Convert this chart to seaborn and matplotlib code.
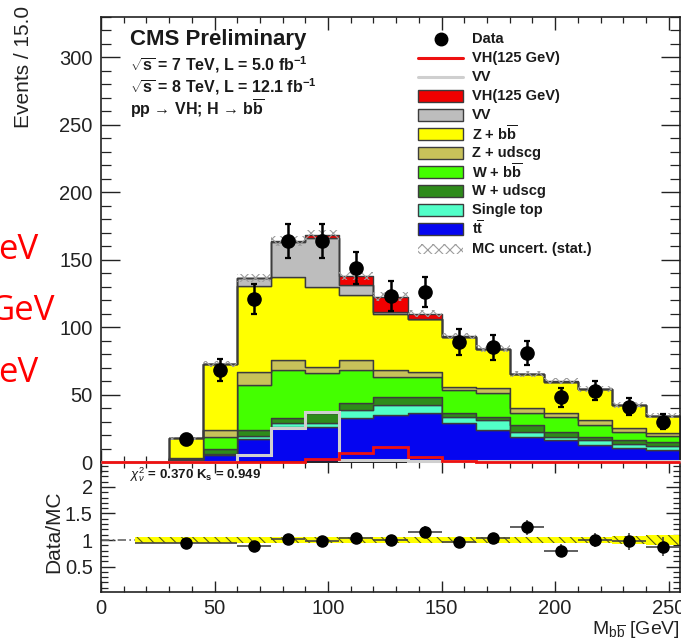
import numpy as np
import pandas as pd
import matplotlib
matplotlib.use("Agg")
import matplotlib.pyplot as plt
from matplotlib import ticker
from matplotlib.patches import Rectangle
from matplotlib.lines import Line2D
import seaborn as sns

# ---------------- data ----------------
bin_edges = np.arange(0, 256, 15)          # M_bb bins, 15 GeV wide, 0..255

# stacked expectations (events / 15 GeV), bottom of stack first
ttbar      = [0, 0, 1.0, 5.0, 16.8, 26.2, 25.7, 32.4, 34.9, 36.1, 28.7, 23.7, 18.8, 16.3, 12.6, 10.5, 8.9]
single_top = [0, 0, 0.3, 1.0, 2.5, 2.5, 3.0, 6.2, 7.4, 6.2, 4.9, 7.5, 3.7, 2.5, 3.7, 2.5, 3.0]
w_udscg    = [0, 0, 0.6, 3.4, 4.4, 3.7, 8.0, 4.9, 6.1, 6.1, 2.5, 2.4, 4.9, 3.7, 2.5, 3.0, 3.1]
w_bb       = [0, 0, 0.5, 9.4, 33.3, 35.8, 29.1, 24.7, 14.9, 14.5, 17.3, 17.4, 8.7, 11.1, 8.6, 6.0, 4.3]
z_udscg    = [0, 0, 0.3, 4.9, 9.5, 7.5, 4.9, 7.5, 4.9, 4.2, 2.5, 3.6, 3.7, 3.0, 3.8, 3.0, 2.0]
z_bb       = [0, 0, 14.9, 49.0, 64.1, 61.8, 59.3, 48.2, 41.6, 38.9, 37.1, 29.0, 25.5, 23.0, 22.7, 17.3, 12.8]
vv         = [0, 0, 0, 0, 5.7, 26.0, 36.0, 7.4, 1.7, 0.3, 0, 0, 0, 0, 0, 0, 0]
vh         = [0, 0, 0, 0, 0, 0.3, 2.5, 6.5, 11.2, 3.8, 0.4, 0.3, 0.2, 0.2, 0.1, 0.1, 0.1]

# unstacked VV shape
vv_line    = [0, 0, 0, 0, 5.2, 25.0, 37.0, 1.5, 1.5, 1.0, 0.8, 0.8, 0.6, 0.6, 0.5, 0.5, 0.4]

# MC statistical uncertainty on the total (events)
mc_stat    = [0, 0, 1.2, 2.2, 3.0, 3.5, 3.5, 3.2, 3.0, 2.8, 2.5, 2.5, 2.2, 2.2, 2.0, 2.0, 1.8]

# observed data, bins 30-45 ... 240-255
data_counts = [17, 68, 121, 164, 164, 144, 123, 126, 89, 85, 81, 48, 53, 41, 30]
data_err    = [4.1, 8.2, 11.0, 12.8, 12.8, 12.0, 11.1, 11.2, 9.4, 9.2, 9.0, 6.9, 7.3, 6.4, 5.5]

# Data/MC ratio (first bin merged 15-60 GeV)
ratio_edges = [15, 60, 75, 90, 105, 120, 135, 150, 165, 180, 195, 210, 225, 240, 255]
ratio_val   = [0.94, 0.89, 1.01, 0.98, 1.04, 1.00, 1.16, 0.96, 1.03, 1.24, 0.80, 1.00, 0.98, 0.87]
ratio_err   = [0.06, 0.08, 0.08, 0.08, 0.09, 0.09, 0.10, 0.10, 0.11, 0.14, 0.12, 0.14, 0.16, 0.18]
ratio_band  = [0.06, 0.055, 0.05, 0.05, 0.05, 0.05, 0.055, 0.055, 0.06, 0.06, 0.065, 0.065, 0.07, 0.085]

processes = ["VH(125 GeV)", "VV", "Z + bb", "Z + udscg", "W + bb", "W + udscg", "Single top", "ttbar"]
yields = [vh, vv, z_bb, z_udscg, w_bb, w_udscg, single_top, ttbar]
colors = {
    "VH(125 GeV)": "#f00000",
    "VV": "#bdbdbd",
    "Z + bb": "#ffff00",
    "Z + udscg": "#c8c25a",
    "W + bb": "#44ff00",
    "W + udscg": "#2e8b1a",
    "Single top": "#52ffc8",
    "ttbar": "#0505f0",
}
legend_labels = {
    "VH(125 GeV)": "VH(125 GeV)",
    "VV": "VV",
    "Z + bb": r"Z + b$\overline{\mathbf{b}}$",
    "Z + udscg": "Z + udscg",
    "W + bb": r"W + b$\overline{\mathbf{b}}$",
    "W + udscg": "W + udscg",
    "Single top": "Single top",
    "ttbar": r"t$\overline{\mathbf{t}}$",
}

centers = 0.5 * (bin_edges[:-1] + bin_edges[1:])
df = pd.DataFrame(
    [(p, c, w) for p, ys in zip(processes, yields) for c, w in zip(centers, ys)],
    columns=["process", "mass", "events"],
)

# ---------------- style ----------------
sns.set_theme(style="ticks")
plt.rcParams.update({
    "font.family": ["Liberation Sans", "DejaVu Sans"],
    "mathtext.fontset": "custom",
    "mathtext.rm": "Liberation Sans",
    "mathtext.it": "Liberation Sans:italic",
    "mathtext.bf": "Liberation Sans:bold",
    "axes.edgecolor": "#222222",
    "axes.linewidth": 1.2,
    "xtick.color": "#222222",
    "ytick.color": "#222222",
    "hatch.linewidth": 0.8,
})

W, H = 681, 639
fig = plt.figure(figsize=(W / 100, H / 100), dpi=100, facecolor="white")


def fx(px):
    return px / W


def fy(py):
    return 1 - py / H


ax = fig.add_axes([fx(101), fy(462), (680 - 101) / W, (462 - 17) / H])
ax2 = fig.add_axes([fx(101), fy(592), (680 - 101) / W, (592 - 462) / H], sharex=ax)
ax.set_zorder(2)   # keep the zero-level lines of the main panel above the ratio frame

# ---------------- main panel ----------------
sns.histplot(
    data=df, x="mass", weights="events", hue="process", hue_order=processes,
    palette=colors, multiple="stack", bins=bin_edges.tolist(), element="step",
    fill=True, alpha=1.0, edgecolor="#3c3c3c", linewidth=1.0, legend=False, ax=ax,
)

total = np.sum(np.array(yields), axis=0)
mc_stat = np.array(mc_stat)
ax.stairs(total[2:] + mc_stat[2:], bin_edges[2:], baseline=total[2:] - mc_stat[2:],
          fill=True, facecolor="none", edgecolor="#9c9c9c", hatch="xxx",
          linewidth=0, zorder=4)

ax.stairs(vv_line, bin_edges, color="#cfcfcf", linewidth=2.2, zorder=5, clip_on=False)
ax.stairs(vh, bin_edges, color="#ee1111", linewidth=2.0, zorder=5, clip_on=False)

ax.errorbar(centers[2:], data_counts, yerr=data_err, fmt="o", color="black",
            markersize=9.5, elinewidth=1.8, capsize=2.5, capthick=1.6, zorder=10)

ax.set_xlim(0, 255)
ax.set_ylim(0, 330)
ax.set_xlabel("")
ax.set_ylabel("Events / 15.0", fontsize=15, loc="top", color="#222222")
ax.yaxis.set_label_coords(-0.117, 1.025)
ax.yaxis.set_major_locator(ticker.MultipleLocator(50))
ax.yaxis.set_minor_locator(ticker.MultipleLocator(10))
ax.xaxis.set_major_locator(ticker.MultipleLocator(50))
ax.xaxis.set_minor_locator(ticker.MultipleLocator(10))
ax.tick_params(which="both", direction="in", top=True, right=True, labelbottom=False)
ax.tick_params(axis="y", which="major", length=14, width=1.0, labelsize=14.5, pad=6)
ax.tick_params(axis="y", which="minor", length=7, width=0.9)
ax.tick_params(axis="x", which="major", length=9, width=1.0)
ax.tick_params(axis="x", which="minor", length=4.5, width=0.9)

# header text
fig.text(fx(130), fy(39), "CMS Preliminary", fontsize=16, fontweight="bold",
         ha="left", va="center", color="#1a1a1a", zorder=6)
fig.text(fx(130), fy(65), r"$\sqrt{\mathbf{s}}$ = 7 TeV, L = 5.0 fb$^{\mathbf{-1}}$",
         fontsize=11.5, fontweight="bold", ha="left", va="center", color="#1a1a1a", zorder=6)
fig.text(fx(130), fy(87), r"$\sqrt{\mathbf{s}}$ = 8 TeV, L = 12.1 fb$^{\mathbf{-1}}$",
         fontsize=11.5, fontweight="bold", ha="left", va="center", color="#1a1a1a", zorder=6)
fig.text(fx(130), fy(109), r"pp → VH; H → b$\overline{\mathbf{b}}$",
         fontsize=11.5, fontweight="bold", ha="left", va="center", color="#1a1a1a", zorder=6)

# legend, drawn entry by entry in the upper right
rows = [39, 58, 77, 96, 115, 134, 153, 172, 191, 210, 229, 249]
hx0, hx1, tx = 418, 463, 472
entries = [("marker", "black", "Data"),
           ("line", "#ee1111", "VH(125 GeV)"),
           ("line", "#cfcfcf", "VV")]
entries += [("patch", colors[p], legend_labels[p]) for p in processes]
entries += [("hatch", "#9c9c9c", "MC uncert. (stat.)")]
for (kind, col, label), ry in zip(entries, rows):
    if kind == "marker":
        handle = Line2D([fx((hx0 + hx1) / 2)], [fy(ry)], marker="o", color=col,
                        markersize=9, linestyle="none")
    elif kind == "line":
        handle = Line2D([fx(hx0), fx(hx1)], [fy(ry), fy(ry)], color=col, linewidth=2.2)
    elif kind == "patch":
        handle = Rectangle((fx(hx0), fy(ry + 6)), (hx1 - hx0) / W, 12 / H,
                           facecolor=col, edgecolor="#3c3c3c", linewidth=1.0)
    else:
        handle = Rectangle((fx(hx0), fy(ry + 5)), (hx1 - hx0) / W, 10 / H,
                           facecolor="white", edgecolor=col, hatch="xxx", linewidth=0)
    handle.set_zorder(6)
    fig.add_artist(handle)
    fig.text(fx(tx), fy(ry), label, fontsize=10.5, fontweight="bold",
             ha="left", va="center", color="#1a1a1a", zorder=6)

# ---------------- ratio panel ----------------
ratio_edges = np.array(ratio_edges)
ratio_x = 0.5 * (ratio_edges[:-1] + ratio_edges[1:])
ratio_xerr = 0.5 * np.diff(ratio_edges)
band = np.array(ratio_band)

ax2.axhline(1.0, color="#666666", linestyle=(0, (5, 2, 1, 2)), linewidth=1.2, zorder=1)
ax2.stairs(1 + band, ratio_edges, baseline=1 - band, fill=True, facecolor="#ffff00",
           edgecolor="#5a5a10", hatch="\\\\\\", linewidth=0, zorder=2)
ax2.errorbar(ratio_x, ratio_val, xerr=ratio_xerr, yerr=ratio_err, fmt="o",
             color="black", ecolor="#444444", markersize=8, elinewidth=1.2,
             capsize=0, zorder=5)

ax2.set_ylim(0.02, 2.47)
ax2.set_xlim(0, 255)
ax2.yaxis.set_major_locator(ticker.FixedLocator([0.5, 1.0, 1.5, 2.0]))
ax2.yaxis.set_major_formatter(ticker.FormatStrFormatter("%g"))
ax2.yaxis.set_minor_locator(ticker.MultipleLocator(0.1))
ax2.tick_params(which="both", direction="in", top=True, right=True)
ax2.tick_params(axis="y", which="major", length=10, width=1.0, labelsize=14.5, pad=6)
ax2.tick_params(axis="y", which="minor", length=5, width=0.9)
ax2.tick_params(axis="x", which="major", length=8, width=1.0, labelsize=14.5, pad=5)
ax2.tick_params(axis="x", which="minor", length=4, width=0.9)
ax2.set_ylabel("Data/MC", fontsize=15, color="#222222")
ax2.yaxis.set_label_coords(-0.066, 0.46)
ax2.set_xlabel("")
fig.text(fx(680), fy(629), r"M$_{\mathrm{b\overline{b}}}$ [GeV]", fontsize=14,
         ha="right", va="center", color="#222222")

ax2.text(0.05, 0.9, r"$\chi^{2}_{\nu}$ = 0.370 K$_{\mathbf{s}}$ = 0.949",
         transform=ax2.transAxes, fontsize=9.5, fontweight="bold",
         ha="left", va="center", color="#1a1a1a")

# slide annotations on the left margin
for txt, right, yc in [("eV", 38, 250), ("GeV", 55, 311), ("eV", 38, 373)]:
    fig.text(fx(right), fy(yc), txt, fontsize=25, color="#ff0000",
             family=["Open Sans", "DejaVu Sans"], ha="right", va="center")

fig.savefig("out.png", dpi=100, facecolor="white")
